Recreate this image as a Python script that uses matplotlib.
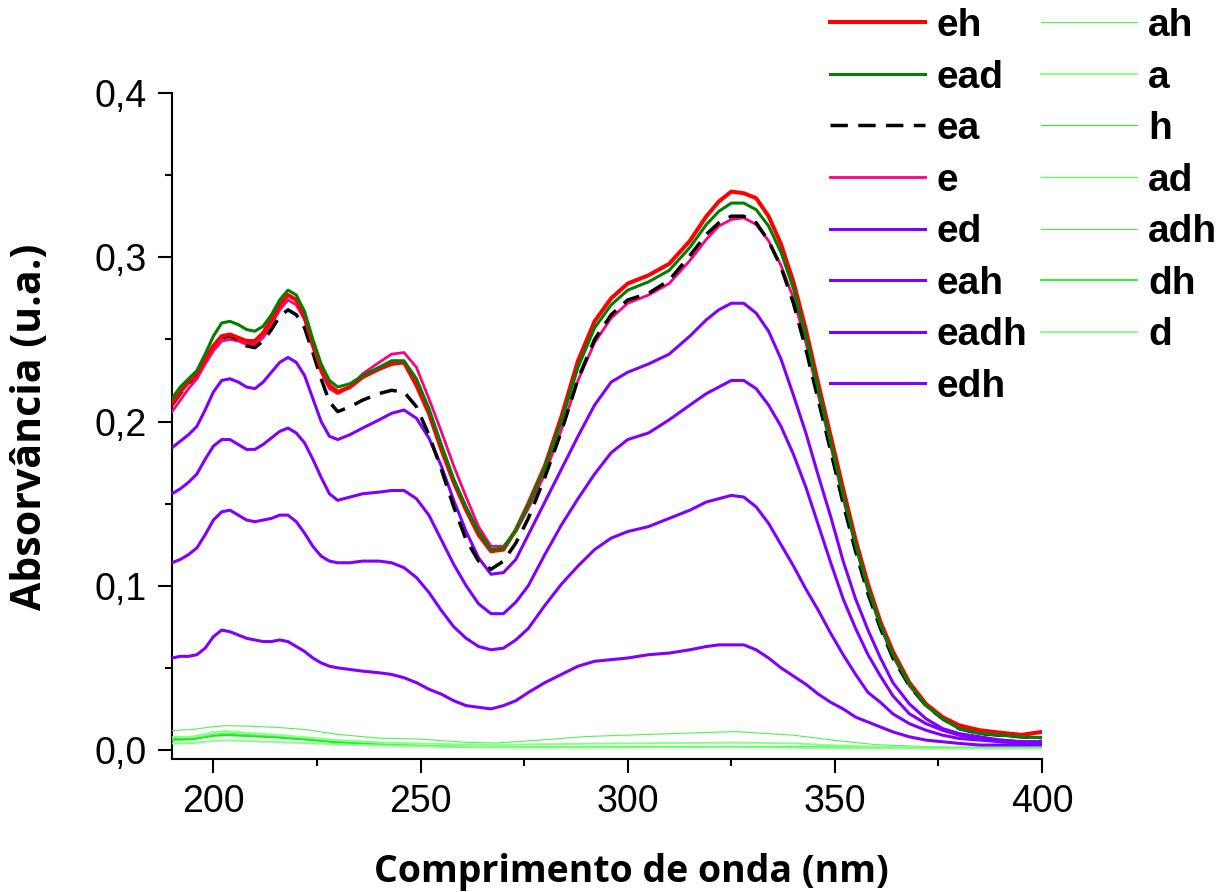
import matplotlib
matplotlib.use("Agg")
import matplotlib.pyplot as plt
from matplotlib.ticker import MultipleLocator

# UV-Vis spectra, wavelength in nm
wavelength = [190, 192, 194, 196, 198, 200, 202, 204, 206, 208,
              210, 212, 214, 216, 218, 220, 222, 224, 226, 228,
              230, 233, 236, 240, 243, 246, 249, 252, 255, 258,
              261, 264, 267, 270, 273, 276, 280, 284, 288, 292,
              296, 300, 305, 310, 315, 319, 322, 325, 328, 331,
              334, 337, 340, 343, 346, 349, 352, 355, 358, 361,
              364, 368, 372, 376, 380, 385, 390, 395, 400]

eh = [0.211, 0.218, 0.224, 0.229, 0.238, 0.246, 0.252, 0.253, 0.251, 0.249,
      0.249, 0.254, 0.262, 0.271, 0.277, 0.274, 0.264, 0.247, 0.232, 0.222,
      0.218, 0.221, 0.227, 0.232, 0.235, 0.236, 0.222, 0.205, 0.183, 0.163,
      0.146, 0.131, 0.121, 0.122, 0.134, 0.150, 0.173, 0.203, 0.237, 0.261,
      0.275, 0.284, 0.289, 0.296, 0.310, 0.325, 0.334, 0.340, 0.339, 0.336,
      0.325, 0.308, 0.285, 0.256, 0.223, 0.191, 0.159, 0.128, 0.101, 0.078,
      0.060, 0.041, 0.028, 0.020, 0.015, 0.012, 0.0105, 0.0092, 0.011]

ead = [0.214, 0.221, 0.226, 0.231, 0.241, 0.252, 0.260, 0.261, 0.259, 0.256,
       0.255, 0.258, 0.265, 0.274, 0.280, 0.277, 0.267, 0.250, 0.235, 0.225,
       0.221, 0.223, 0.228, 0.233, 0.237, 0.237, 0.226, 0.208, 0.186, 0.165,
       0.148, 0.133, 0.122, 0.123, 0.134, 0.149, 0.172, 0.200, 0.233, 0.257,
       0.271, 0.280, 0.285, 0.292, 0.306, 0.320, 0.328, 0.333, 0.333, 0.329,
       0.319, 0.303, 0.281, 0.252, 0.219, 0.187, 0.155, 0.125, 0.098, 0.076,
       0.058, 0.040, 0.027, 0.019, 0.013, 0.010, 0.009, 0.008, 0.0075]

ea = [0.210, 0.217, 0.223, 0.229, 0.238, 0.246, 0.251, 0.252, 0.250, 0.246,
      0.245, 0.249, 0.256, 0.264, 0.268, 0.265, 0.257, 0.242, 0.226, 0.212,
      0.206, 0.209, 0.213, 0.217, 0.219, 0.218, 0.209, 0.192, 0.171, 0.148,
      0.128, 0.115, 0.110, 0.115, 0.126, 0.141, 0.166, 0.194, 0.226, 0.250,
      0.265, 0.274, 0.278, 0.286, 0.301, 0.314, 0.321, 0.325, 0.325, 0.321,
      0.310, 0.294, 0.272, 0.244, 0.213, 0.182, 0.150, 0.121, 0.095, 0.074,
      0.056, 0.039, 0.027, 0.019, 0.013, 0.010, 0.009, 0.008, 0.0075]

e = [0.206, 0.213, 0.220, 0.226, 0.235, 0.243, 0.249, 0.250, 0.249, 0.247,
     0.247, 0.251, 0.259, 0.268, 0.274, 0.271, 0.262, 0.245, 0.230, 0.220,
     0.217, 0.221, 0.229, 0.236, 0.241, 0.242, 0.233, 0.214, 0.194, 0.173,
     0.154, 0.136, 0.124, 0.124, 0.133, 0.147, 0.168, 0.195, 0.225, 0.248,
     0.263, 0.272, 0.277, 0.284, 0.298, 0.311, 0.319, 0.323, 0.324, 0.320,
     0.310, 0.295, 0.275, 0.248, 0.216, 0.185, 0.153, 0.124, 0.097, 0.075,
     0.057, 0.039, 0.027, 0.019, 0.013, 0.010, 0.009, 0.008, 0.0075]

ed = [0.184, 0.188, 0.192, 0.197, 0.207, 0.218, 0.225, 0.226, 0.224, 0.221,
      0.220, 0.224, 0.230, 0.236, 0.239, 0.236, 0.228, 0.214, 0.200, 0.191,
      0.189, 0.192, 0.196, 0.201, 0.205, 0.207, 0.202, 0.190, 0.173, 0.152,
      0.133, 0.117, 0.107, 0.108, 0.116, 0.131, 0.151, 0.171, 0.191, 0.210,
      0.224, 0.230, 0.235, 0.241, 0.252, 0.262, 0.268, 0.272, 0.272, 0.266,
      0.255, 0.238, 0.216, 0.193, 0.167, 0.142, 0.115, 0.092, 0.073, 0.056,
      0.041, 0.028, 0.019, 0.013, 0.010, 0.008, 0.006, 0.005, 0.005]

eah = [0.156, 0.159, 0.163, 0.168, 0.177, 0.185, 0.189, 0.189, 0.186, 0.183,
       0.183, 0.186, 0.190, 0.194, 0.196, 0.193, 0.187, 0.177, 0.166, 0.156,
       0.152, 0.154, 0.156, 0.157, 0.158, 0.158, 0.153, 0.143, 0.128, 0.113,
       0.100, 0.089, 0.083, 0.083, 0.090, 0.100, 0.119, 0.137, 0.153, 0.168,
       0.181, 0.189, 0.193, 0.201, 0.210, 0.217, 0.221, 0.225, 0.225, 0.220,
       0.210, 0.197, 0.180, 0.160, 0.137, 0.114, 0.092, 0.074, 0.058, 0.045,
       0.033, 0.022, 0.016, 0.012, 0.009, 0.007, 0.006, 0.005, 0.005]

eadh = [0.114, 0.116, 0.119, 0.123, 0.131, 0.140, 0.145, 0.146, 0.143, 0.140,
        0.139, 0.140, 0.141, 0.143, 0.143, 0.139, 0.132, 0.124, 0.118, 0.115,
        0.114, 0.114, 0.115, 0.115, 0.114, 0.111, 0.105, 0.096, 0.085, 0.075,
        0.068, 0.063, 0.061, 0.062, 0.067, 0.074, 0.088, 0.101, 0.112, 0.122,
        0.129, 0.133, 0.136, 0.141, 0.146, 0.151, 0.153, 0.155, 0.154, 0.148,
        0.138, 0.125, 0.112, 0.098, 0.085, 0.071, 0.058, 0.046, 0.035, 0.029,
        0.022, 0.016, 0.012, 0.009, 0.007, 0.006, 0.005, 0.004, 0.004]

edh = [0.056, 0.057, 0.057, 0.058, 0.062, 0.069, 0.073, 0.072, 0.070, 0.068,
       0.067, 0.066, 0.066, 0.067, 0.066, 0.063, 0.060, 0.056, 0.053, 0.051,
       0.050, 0.049, 0.048, 0.047, 0.046, 0.044, 0.041, 0.037, 0.034, 0.030,
       0.027, 0.026, 0.025, 0.027, 0.030, 0.035, 0.041, 0.046, 0.051, 0.054,
       0.055, 0.056, 0.058, 0.059, 0.061, 0.063, 0.064, 0.064, 0.064, 0.061,
       0.056, 0.050, 0.045, 0.040, 0.034, 0.029, 0.025, 0.020, 0.017, 0.014,
       0.011, 0.008, 0.006, 0.005, 0.004, 0.003, 0.003, 0.003, 0.003]

# samples without e are almost flat, fewer points are enough
wl_blank = [190, 195, 200, 203, 208, 215, 222, 230, 240, 250, 260,
            268, 280, 290, 305, 326, 340, 350, 360, 375, 400]

ah = [0.0118, 0.0125, 0.0142, 0.0148, 0.0145, 0.0138, 0.0125, 0.0095, 0.0072, 0.0066, 0.0048,
      0.0042, 0.0062, 0.0082, 0.0095, 0.0112, 0.0090, 0.0058, 0.0032, 0.0018, 0.0015]
a = [0.0078, 0.0082, 0.0108, 0.0115, 0.0105, 0.0093, 0.0078, 0.0060, 0.0046, 0.0039, 0.0034,
     0.0032, 0.0035, 0.0038, 0.0041, 0.0045, 0.0040, 0.0028, 0.0019, 0.0015, 0.0014]
h = [0.0062, 0.0068, 0.0095, 0.0102, 0.0094, 0.0082, 0.0068, 0.0050, 0.0036, 0.0028, 0.0023,
     0.0020, 0.0020, 0.0020, 0.0021, 0.0022, 0.0020, 0.0017, 0.0015, 0.0013, 0.0012]
ad = [0.0068, 0.0072, 0.0090, 0.0098, 0.0090, 0.0080, 0.0066, 0.0048, 0.0034, 0.0026, 0.0021,
      0.0019, 0.0018, 0.0018, 0.0019, 0.0020, 0.0018, 0.0016, 0.0014, 0.0012, 0.0011]
adh = [0.0058, 0.0062, 0.0088, 0.0094, 0.0088, 0.0078, 0.0064, 0.0046, 0.0032, 0.0024, 0.0019,
       0.0017, 0.0017, 0.0017, 0.0018, 0.0019, 0.0017, 0.0015, 0.0013, 0.0011, 0.0010]
dh = [0.0065, 0.0066, 0.0085, 0.0090, 0.0084, 0.0076, 0.0063, 0.0045, 0.0031, 0.0023, 0.0018,
      0.0016, 0.0016, 0.0016, 0.0017, 0.0018, 0.0016, 0.0014, 0.0012, 0.0010, 0.0010]
d = [0.0040, 0.0042, 0.0055, 0.0058, 0.0055, 0.0048, 0.0042, 0.0035, 0.0028, 0.0023, 0.0019,
     0.0017, 0.0016, 0.0016, 0.0016, 0.0017, 0.0015, 0.0013, 0.0012, 0.0010, 0.0010]

x_ticks = [200, 250, 300, 350, 400]
y_ticks = [0.0, 0.1, 0.2, 0.3, 0.4]
y_tick_labels = ["0,0", "0,1", "0,2", "0,3", "0,4"]

plt.rcParams["font.family"] = "Liberation Sans"
plt.rcParams["lines.solid_joinstyle"] = "round"
plt.rcParams["lines.dash_joinstyle"] = "round"

fig = plt.figure(figsize=(12.32, 8.92), dpi=100)
ax = fig.add_axes([0.1396, 0.1491, 0.7062, 0.7466])

purple = "#8000ff"

# legend order = plotting order, zorder handles which line sits on top
ax.plot(wavelength, eh, color="#ff0000", lw=2.9, label="eh", zorder=8)
ax.plot(wavelength, ead, color="#008000", lw=2.2, label="ead", zorder=9)
ax.plot(wavelength, ea, color="black", lw=2.5, ls=(0, (5, 3)), label="ea", zorder=7)
ax.plot(wavelength, e, color="#ff0080", lw=2.0, label="e", zorder=6)
ax.plot(wavelength, ed, color=purple, lw=2.2, label="ed", zorder=5)
ax.plot(wavelength, eah, color=purple, lw=2.2, label="eah", zorder=5)
ax.plot(wavelength, eadh, color=purple, lw=2.2, label="eadh", zorder=5)
ax.plot(wavelength, edh, color=purple, lw=2.2, label="edh", zorder=5)
ax.plot(wl_blank, ah, color="#55ee55", lw=0.8, label="ah", zorder=3)
ax.plot(wl_blank, a, color="#88ff88", lw=1.4, label="a", zorder=3)
ax.plot(wl_blank, h, color="#22ee22", lw=0.8, label="h", zorder=3)
ax.plot(wl_blank, ad, color="#66ff66", lw=1.0, label="ad", zorder=3)
ax.plot(wl_blank, adh, color="#44ee44", lw=0.8, label="adh", zorder=3)
ax.plot(wl_blank, dh, color="#11ee11", lw=1.2, label="dh", zorder=3)
ax.plot(wl_blank, d, color="#88ff88", lw=1.4, label="d", zorder=3)

ax.set_xlim(190, 400)
ax.set_ylim(-0.0055, 0.4)
ax.set_xticks(x_ticks)
ax.set_yticks(y_ticks)
ax.set_yticklabels(y_tick_labels)
ax.xaxis.set_minor_locator(MultipleLocator(25))
ax.yaxis.set_minor_locator(MultipleLocator(0.05))

for side in ["top", "right"]:
    ax.spines[side].set_visible(False)
for side in ["left", "bottom"]:
    ax.spines[side].set_linewidth(1.5)

ax.tick_params(which="major", direction="out", length=10, width=1.5, labelsize=27, pad=8)
ax.tick_params(which="minor", direction="out", length=5, width=1.5)

fig.text(631 / 1232, 1 - 872 / 892, "Comprimento de onda (nm)", ha="center", va="center",
         fontsize=27, fontweight="bold", family="Open Sans")
fig.text(31 / 1232, 1 - 427 / 892, "Absorvância (u.a.)", ha="center", va="center",
         rotation=90, fontsize=29.5, fontweight="bold", family="Open Sans")

ax.legend(ncol=2, loc="upper left", bbox_to_anchor=(830 / 1232, 1 - 8 / 892),
          bbox_transform=fig.transFigure, frameon=False,
          prop={"family": "Liberation Sans", "weight": "bold", "size": 28},
          handlelength=2.45, handletextpad=0.3, columnspacing=0.35,
          labelspacing=0.4, borderpad=0, borderaxespad=0)

fig.savefig("out.png", dpi=100)
